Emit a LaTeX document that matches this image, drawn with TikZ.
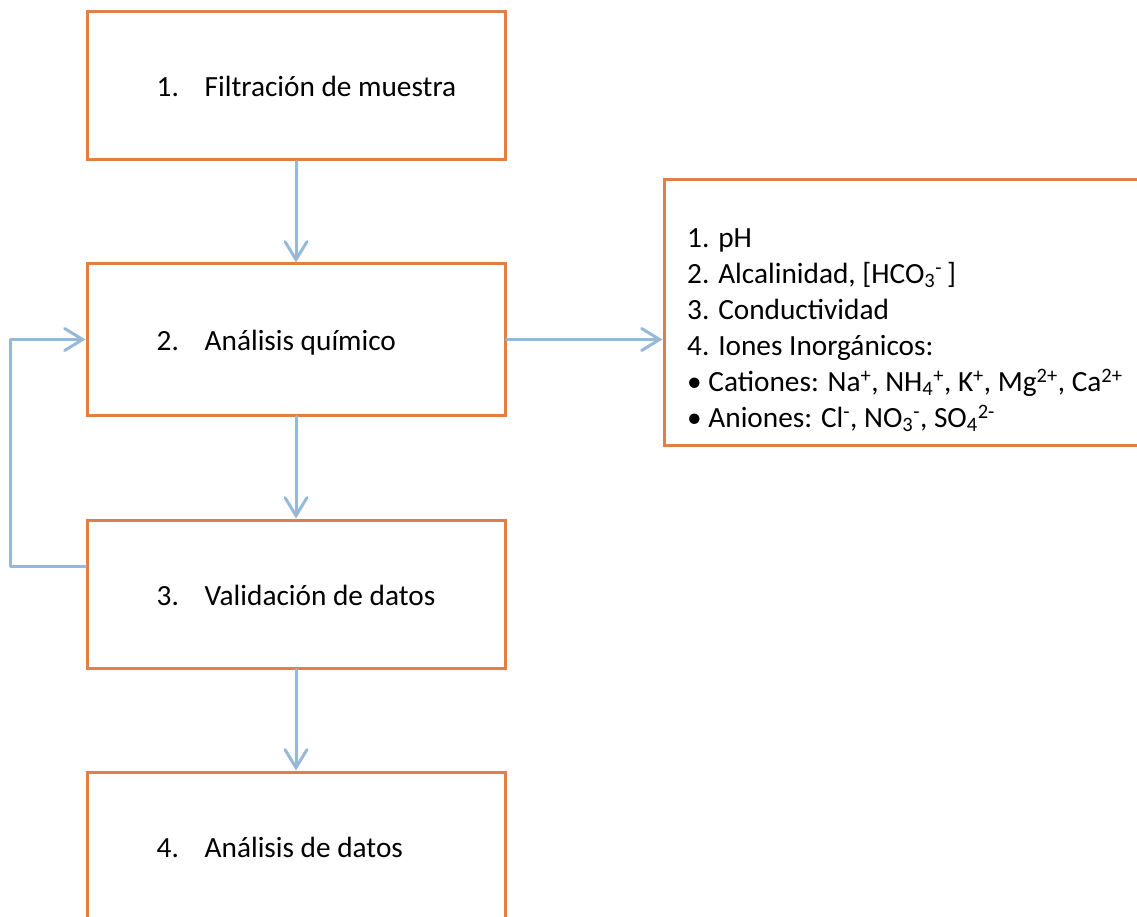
\documentclass[tikz,border=0pt]{standalone}
\usepackage{fontspec}
\setmainfont{Carlito}
\usetikzlibrary{arrows.meta}
\definecolor{boxorange}{RGB}{224,128,70}
\definecolor{flowblue}{RGB}{150,185,215}

\begin{document}
\begin{tikzpicture}[x=1pt,y=-1pt,
        stepbox/.style={draw=boxorange,line width=3pt,rectangle,
            minimum width=418pt,minimum height=148pt,inner sep=0pt},
        steptext/.style={anchor=base west,inner sep=0pt,
            font=\fontsize{29.3}{36}\selectfont},
        flow/.style={draw=flowblue,line width=3pt,line cap=round,line join=round,
            -{Straight Barb[length=18pt,width=22pt,line cap=round]}}]
        \useasboundingbox (0,0) rectangle (1137,917);
        \clip (0,0) rectangle (1137,917);
        % steps
        \node[stepbox] (b1) at (296,86) {};
        \node[stepbox,minimum height=151pt] (b2) at (296,339.5) {};
        \node[stepbox] (b3) at (296,594) {};
        \node[stepbox] (b4) at (296,846) {};
        \node[steptext] (t1) at ([xshift=71pt,yshift=-11pt]b1.west) {\makebox[48pt][l]{1.}Filtración de muestra};
        \node[steptext] (t2) at ([xshift=71pt,yshift=-11pt]b2.west) {\makebox[48pt][l]{2.}Análisis químico};
        \node[steptext] (t3) at ([xshift=71pt,yshift=-11pt]b3.west) {\makebox[48pt][l]{3.}Validación de datos};
        \node[steptext] (t4) at ([xshift=71pt,yshift=-11pt]b4.west) {\makebox[48pt][l]{4.}Análisis de datos};
        % parameter list
        \node[stepbox,minimum width=520pt,minimum height=265pt] (par) at (924,312.5) {};
        \node[anchor=north west,inner sep=0pt,align=left,
            font=\fontsize{29.3}{36}\selectfont] (list) at (687,228)
            {1. pH\\
             2. Alcalinidad, [HCO\textsubscript{3}\textsuperscript{-}\,]\\
             3. Conductividad\\
             4. Iones Inorgánicos:\\
             • Cationes: Na\textsuperscript{+}, NH\textsubscript{4}\textsuperscript{+}, K\textsuperscript{+}, Mg\textsuperscript{2+}, Ca\textsuperscript{2+}\\
             • Aniones: Cl\textsuperscript{-}, NO\textsubscript{3}\textsuperscript{-}, SO\textsubscript{4}\textsuperscript{2-}};
        % connectors
        \draw[flow] (b1) -- (b2);
        \draw[flow] (b2) -- (b3);
        \draw[flow] (b3) -- (b4);
        \draw[flow] (b2.east) -- (par.west |- b2.east);
        \coordinate (fb) at ([yshift=28pt]b3.west);
        \draw[flow] (fb) -- ++(-75,0) |- (b2.west);
    \end{tikzpicture}
\end{document}
